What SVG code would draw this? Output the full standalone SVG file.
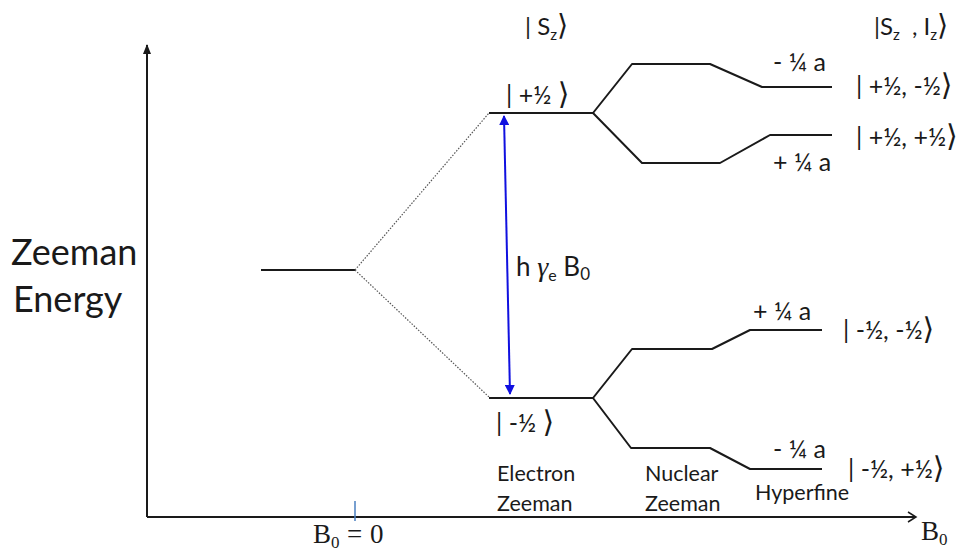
<svg xmlns="http://www.w3.org/2000/svg" width="965" height="555" viewBox="0 0 965 555">
<defs>
<style>
.t{font-family:Lato,"Open Sans","DejaVu Sans",sans-serif;fill:#1a1a1a}
.s{font-family:"Liberation Serif","DejaVu Serif",serif;fill:#1a1a1a}
.b{font-size:1.2em}
.lvl{fill:none;stroke:#1a1a1a;stroke-width:2;stroke-linejoin:round}
.dot{fill:none;stroke:#555;stroke-width:1.2;stroke-dasharray:1.5 1.5}
.ax{fill:none;stroke:#1a1a1a;stroke-width:2}
</style>
<marker id="up" markerWidth="10" markerHeight="10" refX="9" refY="5" orient="auto" markerUnits="userSpaceOnUse" viewBox="0 0 10 10"><path d="M0,1 L10,5 L0,9 Z" fill="#1a1a1a"/></marker>
<marker id="bl" markerWidth="10" markerHeight="10" refX="9" refY="5" orient="auto-start-reverse" markerUnits="userSpaceOnUse" viewBox="0 0 10 10"><path d="M0,0 L10,5 L0,10 Z" fill="#1010e0"/></marker>
</defs>
<rect width="965" height="555" fill="#fff"/>
<g id="axes">
<line class="ax" x1="147" y1="517" x2="147" y2="45" marker-end="url(#up)"/>
<line class="ax" x1="147" y1="517" x2="916" y2="517"/>
<polyline points="908,512 916,517 908,522" fill="none" stroke="#1a1a1a" stroke-width="1.5"/>
<line x1="355" y1="501" x2="355" y2="521" stroke="#4a7fc0" stroke-width="1.5"/>
<text class="s" x="313" y="543" font-size="27">B<tspan font-size="17" dy="5">0</tspan><tspan dy="-5" x="347">=</tspan><tspan x="370">0</tspan></text>
<text class="s" x="921" y="540" font-size="27">B<tspan font-size="17" dy="5">0</tspan></text>
<text class="t" x="11" y="265" font-size="36">Zeeman</text>
<text class="t" x="13" y="312" font-size="36">Energy</text>
</g>
<g id="zero-field">
<line class="lvl" x1="261" y1="270" x2="355" y2="270"/>
</g>
<g id="connectors">
<line class="dot" x1="355" y1="270" x2="489" y2="113"/>
<line class="dot" x1="355" y1="270" x2="489" y2="397"/>
<line x1="504" y1="116" x2="510" y2="394" stroke="#1010e0" stroke-width="2" marker-start="url(#bl)" marker-end="url(#bl)"/>
<text class="t" x="516" y="276" font-size="26">h <tspan class="s" font-style="italic" font-size="28">γ</tspan><tspan font-size="16" dy="5">e</tspan><tspan dy="-5"> B</tspan><tspan font-size="17" dy="4">0</tspan></text>
</g>
<g id="level-up">
<polyline class="lvl" points="489,113 593,113"/>
<text class="t" x="506" y="104" font-size="25">| +½ <tspan class="b">⟩</tspan></text>
</g>
<g id="level-up-split">
<polyline class="lvl" points="593,113 632,64 710,64 762,87 832,87"/>
<polyline class="lvl" points="593,113 642,163 720,163 770,135 832,135"/>
<text class="t" x="773" y="71" font-size="25">- ¼ a</text>
<text class="t" x="773" y="171" font-size="25">+ ¼ a</text>
<text class="t" x="856" y="95" font-size="25">| +½, -½<tspan class="b">⟩</tspan></text>
<text class="t" x="856" y="146" font-size="25">| +½, +½<tspan class="b">⟩</tspan></text>
</g>
<g id="level-down">
<polyline class="lvl" points="489,398 593,398"/>
<text class="t" x="496" y="432" font-size="25">| -½ <tspan class="b">⟩</tspan></text>
</g>
<g id="level-down-split">
<polyline class="lvl" points="593,398 632,349 712,349 750,330 822,330"/>
<polyline class="lvl" points="593,398 631,448 710,448 750,469 822,469"/>
<text class="t" x="753" y="320" font-size="25">+ ¼ a</text>
<text class="t" x="773" y="458" font-size="25">- ¼ a</text>
<text class="t" x="843" y="339" font-size="25">| -½, -½<tspan class="b">⟩</tspan></text>
<text class="t" x="848" y="478" font-size="25">| -½, +½<tspan class="b">⟩</tspan></text>
</g>
<g id="headers">
<text class="t" x="525" y="35" font-size="24">| S<tspan font-size="15" dy="5">z</tspan><tspan dy="-5" class="b">⟩</tspan></text>
<text class="t" x="874" y="35" font-size="24">|S<tspan font-size="15" dy="5">z</tspan><tspan dy="-5" x="912">, I</tspan><tspan font-size="15" dy="5">z</tspan><tspan dy="-5" class="b">⟩</tspan></text>
</g>
<g id="stage-labels">
<text class="t" x="497" y="481" font-size="21.5">Electron</text>
<text class="t" x="497" y="511" font-size="21.5">Zeeman</text>
<text class="t" x="645" y="481" font-size="21.5">Nuclear</text>
<text class="t" x="645" y="511" font-size="21.5">Zeeman</text>
<text class="t" x="755" y="500" font-size="21.5">Hyperfine</text>
</g>
</svg>
